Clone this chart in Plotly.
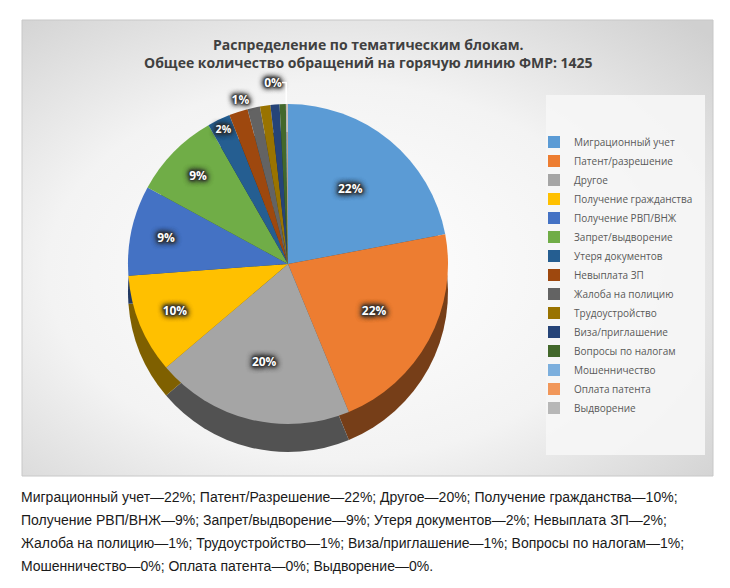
import base64
import plotly.graph_objects as go

# --- данные ---
TITLE_1 = "Распределение по тематическим блокам."
TITLE_2 = "Общее количество обращений на горячую линию ФМР: 1425"

categories = [
    "Миграционный учет", "Патент/разрешение", "Другое", "Получение гражданства",
    "Получение РВП/ВНЖ", "Запрет/выдворение", "Утеря документов", "Невыплата ЗП",
    "Жалоба на полицию", "Трудоустройство", "Виза/приглашение", "Вопросы по налогам",
    "Мошенничество", "Оплата патента", "Выдворение",
]
counts = [314, 310, 285, 143, 130, 125, 33, 27, 18, 15, 13, 9, 1, 1, 1]
# какие подписи видны на диаграмме (остальные Excel скрыл из-за наложения)
show_label = [True, True, True, True, True, True, True, False, True,
              False, False, False, True, False, False]

caption_names = [
    "Миграционный учет", "Патент/Разрешение", "Другое", "Получение гражданства",
    "Получение РВП/ВНЖ", "Запрет/выдворение", "Утеря документов", "Невыплата ЗП",
    "Жалоба на полицию", "Трудоустройство", "Виза/приглашение", "Вопросы по налогам",
    "Мошенничество", "Оплата патента", "Выдворение",
]
caption_breaks = [0, 4, 8, 12, 15]

colors = ["#5B9BD5", "#ED7D31", "#A5A5A5", "#FFC000", "#4472C4", "#70AD47",
          "#255E91", "#9E480E", "#636363", "#997300", "#264478", "#43682B",
          "#7CAFDD", "#F1975A", "#B7B7B7"]

W, H = 730, 588
OFF = 8  # отступ body в браузере


def px_x(v):
    return (v - OFF) / W


def px_y(v):
    return 1 - (v - OFF) / H


def darker(c, f=0.5):
    r, g, b = int(c[1:3], 16), int(c[3:5], 16), int(c[5:7], 16)
    return "#%02X%02X%02X" % (int(r * f), int(g * f), int(b * f))


# фон - радиальный градиент как в Excel
svg = ('<svg xmlns="http://www.w3.org/2000/svg" width="100" height="100" '
       'viewBox="0 0 100 100" preserveAspectRatio="none">'
       '<defs><radialGradient id="g" cx="45%" cy="55%" r="75%">'
       '<stop offset="0" stop-color="#FFFFFF"/><stop offset="0.55" stop-color="#F3F3F3"/>'
       '<stop offset="1" stop-color="#D0D0D0"/></radialGradient></defs>'
       '<rect width="100" height="100" fill="url(#g)"/></svg>')
bg_src = "data:image/svg+xml;base64," + base64.b64encode(svg.encode()).decode()

total = sum(counts)
pct = [round(v * 100 / total) for v in counts]
texts = ["%{percent:.0%}" if s else "" for s in show_label]
tpos = ["inside" if v / total > 0.02 else "outside" for v in counts]

# геометрия пирога
cx, cy, R, DEPTH = 288, 264, 160, 28
top_dom = dict(x=[px_x(cx - R), px_x(cx + R)], y=[px_y(cy + R), px_y(cy - R)])
side_dom = dict(x=[px_x(cx - R), px_x(cx + R)], y=[px_y(cy + R + DEPTH), px_y(cy - R + DEPTH)])

# тёмная "плашка" под подписями через тень текста
label_font = dict(family="Open Sans", size=12, color="white", weight="bold",
                  shadow=", ".join(["0 0 %dpx #2f2f2f" % b for b in (1, 2, 3, 4, 5, 6, 6, 7)]))

fig = go.Figure()

# боковая "стенка" объемного пирога
fig.add_trace(go.Pie(
    labels=categories, values=counts, sort=False, direction="clockwise", rotation=0,
    marker=dict(colors=[darker(c) for c in colors], line=dict(width=0)),
    texttemplate=texts, textposition=tpos, insidetextorientation="horizontal",
    textfont=dict(family="Open Sans", size=12, color="rgba(0,0,0,0)", weight="bold"),
    hoverinfo="skip", showlegend=False, domain=side_dom,
))

fig.add_trace(go.Pie(
    labels=categories, values=counts, sort=False, direction="clockwise", rotation=0,
    marker=dict(colors=colors, line=dict(width=0)),
    texttemplate=texts, textposition=tpos, insidetextorientation="horizontal",
    insidetextfont=label_font, outsidetextfont=label_font,
    domain=top_dom, name="",
))

# подпись под диаграммой
lines = []
for i in range(len(caption_breaks) - 1):
    a, b = caption_breaks[i], caption_breaks[i + 1]
    parts = ["%s—%d%%" % (caption_names[k], pct[k]) for k in range(a, b)]
    end = "." if b == len(caption_names) else ";"
    lines.append("; ".join(parts) + end)

annotations = []
for i, line in enumerate(lines):
    annotations.append(dict(
        text=line, x=px_x(19), y=px_y(497 + i * 23), xref="paper", yref="paper",
        xanchor="left", yanchor="middle", showarrow=False,
        font=dict(family="Liberation Sans", size=14, color="#1a1a1a"),
    ))

annotations.append(dict(
    text="<b>" + TITLE_1 + "</b><br><b>" + TITLE_2 + "</b>",
    x=px_x(368), y=px_y(54), xref="paper", yref="paper",
    xanchor="center", yanchor="middle", showarrow=False,
    font=dict(family="Open Sans", size=14, color="#404040"),
))

fig.update_layout(
    width=W, height=H,
    margin=dict(l=0, r=0, t=0, b=0),
    paper_bgcolor="white",
    showlegend=True,
    legend=dict(
        x=px_x(534), y=px_y(275), xanchor="left", yanchor="middle",
        bgcolor="rgba(0,0,0,0)", font=dict(family="Open Sans", size=10, color="#595959"),
    ),
    images=[dict(
        source=bg_src, xref="paper", yref="paper", x=px_x(22), y=px_y(20),
        sizex=px_x(713) - px_x(22), sizey=px_y(20) - px_y(476),
        xanchor="left", yanchor="top", sizing="stretch", layer="below",
    )],
    shapes=[
        dict(type="rect", xref="paper", yref="paper",
             x0=px_x(22), x1=px_x(713), y0=px_y(476), y1=px_y(20),
             line=dict(color="#C8C8C8", width=1), fillcolor="rgba(0,0,0,0)", layer="below"),
        dict(type="rect", xref="paper", yref="paper",
             x0=px_x(546), x1=px_x(705), y0=px_y(455), y1=px_y(95),
             line=dict(width=0), fillcolor="rgba(246,246,246,0.9)", layer="below"),
    ],
    annotations=annotations,
)

fig.write_html("out.html")
